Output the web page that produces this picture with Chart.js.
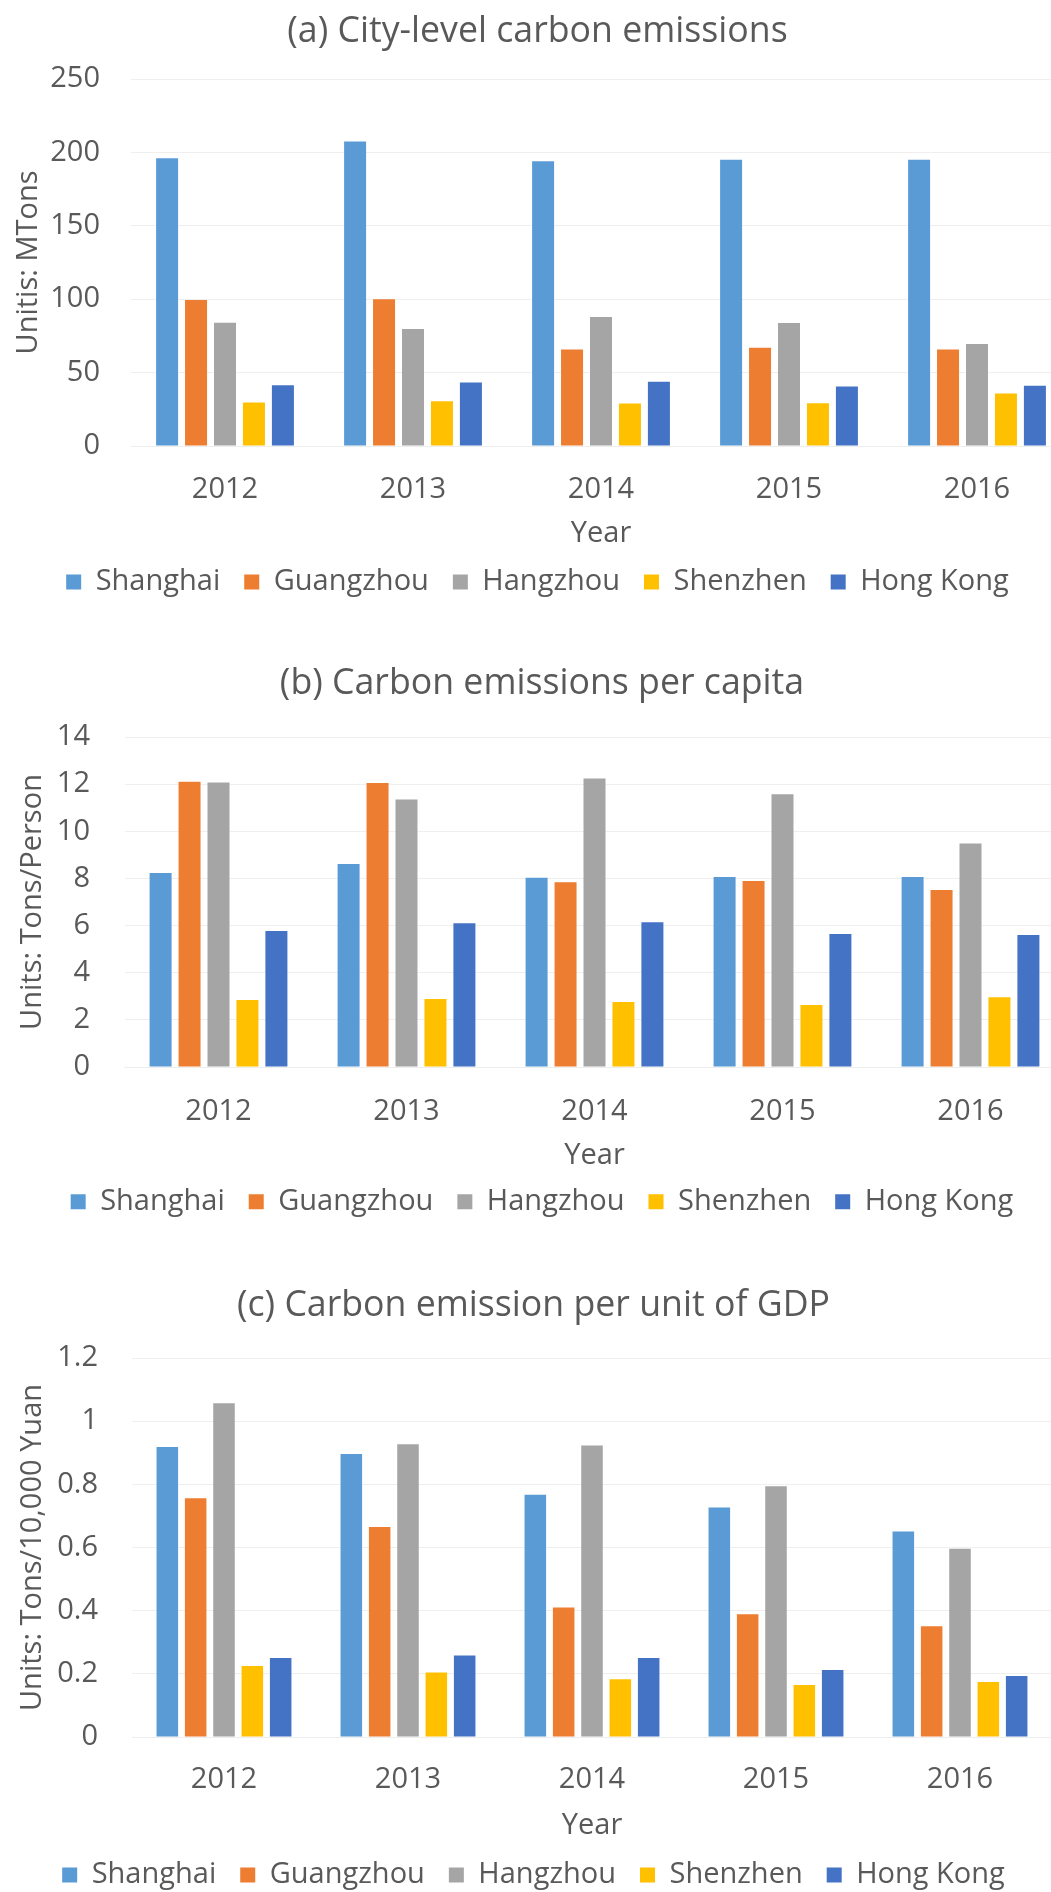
<!DOCTYPE html>
<html>
<head>
<meta charset="utf-8">
<script src="https://cdn.jsdelivr.net/npm/chart.js@4.4.1/dist/chart.umd.min.js"></script>
<style>
  html, body { margin: 0; padding: 0; background: #ffffff; width: 1051px; height: 1892px; overflow: hidden; }
  .box { position: absolute; left: 0; }
  canvas { display: block; }
</style>
</head>
<body>
<div class="box" style="top:0px"><canvas id="chartA" width="1090" height="620"></canvas></div>
<div class="box" style="top:630px"><canvas id="chartB" width="1090" height="600"></canvas></div>
<div class="box" style="top:1230px"><canvas id="chartC" width="1090" height="680"></canvas></div>
<script>
// ---- categories ----
const years = ['2012', '2013', '2014', '2015', '2016'];
const cities = ['Shanghai', 'Guangzhou', 'Hangzhou', 'Shenzhen', 'Hong Kong'];

// ---- (a) City-level carbon emissions (MTons) ----
const shanghaiA  = [196, 207.5, 194, 195, 195];
const guangzhouA = [99.5, 100, 65.7, 67, 65.7];
const hangzhouA  = [84, 79.7, 87.8, 83.8, 69.5];
const shenzhenA  = [29.7, 30.5, 29, 29.2, 35.7];
const hongkongA  = [41.4, 43.2, 43.8, 40.5, 41];
const yTicksA = [0, 50, 100, 150, 200, 250];

// ---- (b) Carbon emissions per capita (Tons/Person) ----
const shanghaiB  = [8.23, 8.61, 8.03, 8.06, 8.06];
const guangzhouB = [12.1, 12.05, 7.84, 7.89, 7.51];
const hangzhouB  = [12.07, 11.35, 12.24, 11.57, 9.48];
const shenzhenB  = [2.84, 2.88, 2.76, 2.63, 2.96];
const hongkongB  = [5.77, 6.1, 6.14, 5.64, 5.6];
const yTicksB = [0, 2, 4, 6, 8, 10, 12, 14];

// ---- (c) Carbon emission per unit of GDP (Tons/10,000 Yuan) ----
const shanghaiC  = [0.918, 0.896, 0.767, 0.727, 0.651];
const guangzhouC = [0.756, 0.665, 0.41, 0.389, 0.351];
const hangzhouC  = [1.057, 0.927, 0.923, 0.794, 0.596];
const shenzhenC  = [0.225, 0.204, 0.183, 0.165, 0.174];
const hongkongC  = [0.25, 0.258, 0.25, 0.212, 0.193];
const yTicksC = [0, 0.2, 0.4, 0.6, 0.8, 1, 1.2];

const colors = ['#5B9BD5', '#ED7D31', '#A5A5A5', '#FFC000', '#4472C4'];
const FONT = "'Open Sans', 'Noto Sans', sans-serif";
const TXT = '#595959';

function buildDatasets(series) {
  return series.map((vals, i) => ({
    label: cities[i],
    data: vals,
    backgroundColor: colors[i],
    borderWidth: 0,
    categoryPercentage: 0.77,
    barPercentage: 0.76
  }));
}

function makeChart(id, cfg) {
  const ticks = cfg.yTicks;
  return new Chart(document.getElementById(id), {
    type: 'bar',
    data: { labels: years, datasets: buildDatasets(cfg.series) },
    options: {
      responsive: false,
      animation: false,
      devicePixelRatio: 1,
      layout: { padding: { left: cfg.padL, right: cfg.padR, top: 0, bottom: cfg.padB } },
      plugins: {
        tooltip: { enabled: false },
        title: {
          display: true,
          text: cfg.title,
          color: TXT,
          font: { family: FONT, size: 35.7, weight: 'normal', lineHeight: 1.2 },
          padding: { top: cfg.titlePadTop, bottom: cfg.titlePadBottom }
        },
        legend: {
          position: 'bottom',
          labels: {
            color: TXT,
            font: { family: FONT, size: 29 },
            boxWidth: 15,
            boxHeight: 15,
            padding: 24
          }
        }
      },
      scales: {
        x: {
          grid: { display: false, drawTicks: false },
          border: { display: true, color: '#eeeeee' },
          ticks: { color: TXT, font: { family: FONT, size: 29 }, padding: cfg.xTickPad, maxRotation: 0, autoSkip: false },
          title: {
            display: true, text: 'Year', color: TXT,
            font: { family: FONT, size: 29, lineHeight: 1.2 },
            padding: { top: 0, bottom: cfg.yearPadB }
          },
          afterFit: s => { s.height = cfg.xHeight; }
        },
        y: {
          min: ticks[0],
          max: ticks[ticks.length - 1],
          afterBuildTicks: s => { s.ticks = ticks.map(v => ({ value: v })); },
          grid: { color: '#efefef', lineWidth: 1, drawTicks: false },
          border: { display: false },
          ticks: {
            color: TXT,
            font: { family: FONT, size: 29 },
            padding: cfg.yTickPad,
            callback: v => String(Number(Number(v).toFixed(2)))
          },
          title: {
            display: true, text: cfg.yTitle, color: TXT,
            font: { family: FONT, size: 29, lineHeight: 1.2 },
            padding: { top: cfg.yTitlePad, bottom: 0 }
          },
          afterFit: s => { s.width = cfg.yWidth; }
        }
      }
    }
  });
}

makeChart('chartA', {
  title: '(a) City-level carbon emissions',
  yTitle: 'Unitis: MTons',
  series: [shanghaiA, guangzhouA, hangzhouA, shenzhenA, hongkongA],
  yTicks: yTicksA,
  padL: 4, padR: 19, padB: 13.5,
  titlePadTop: 10.6, titlePadBottom: 25.56,
  xHeight: 97.5, xTickPad: 26.6, yearPadB: -7.9,
  yWidth: 127, yTickPad: 31, yTitlePad: 7.6
});

makeChart('chartB', {
  title: '(b) Carbon emissions per capita',
  yTitle: 'Units: Tons/Person',
  series: [shanghaiB, guangzhouB, hangzhouB, shenzhenB, hongkongB],
  yTicks: yTicksB,
  padL: 19.5, padR: 25.5, padB: 3.8,
  titlePadTop: 32.08, titlePadBottom: 32.08,
  xHeight: 96.2, xTickPad: 27.6, yearPadB: -10.2,
  yWidth: 105, yTickPad: 34.5, yTitlePad: -3.9
});

makeChart('chartC', {
  title: '(c) Carbon emission per unit of GDP',
  yTitle: 'Units: Tons/10,000 Yuan',
  series: [shanghaiC, guangzhouC, hangzhouC, shenzhenC, hongkongC],
  yTicks: yTicksC,
  padL: 15, padR: 38, padB: 10.5,
  titlePadTop: 54.58, titlePadBottom: 30.58,
  xHeight: 99.5, xTickPad: 25.6, yearPadB: -6.9,
  yWidth: 117, yTickPad: 34, yTitlePad: 0.6
});
</script>
</body>
</html>
